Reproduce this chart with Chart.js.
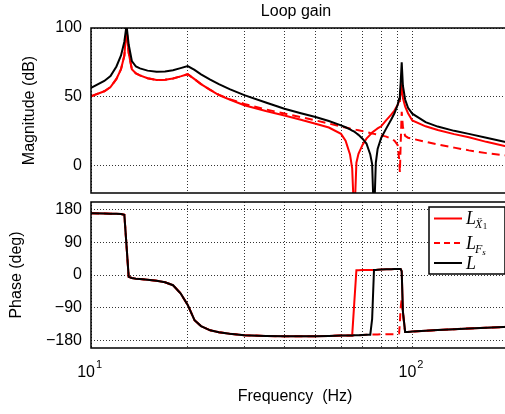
<!DOCTYPE html>
<html>
<head>
<meta charset="utf-8">
<script src="https://cdn.jsdelivr.net/npm/chart.js@4.4.0/dist/chart.umd.min.js"></script>
<style>
  html, body { margin: 0; padding: 0; background: #fff; overflow: hidden; }
  #wrap { position: relative; width: 505px; height: 414px; overflow: hidden; }
  canvas { position: absolute; left: 0; }
  #magChart { top: 0; }
  #phaseChart { top: 195px; }
</style>
</head>
<body>
<div id="wrap">
  <canvas id="magChart" width="509" height="200"></canvas>
  <canvas id="phaseChart" width="509" height="219"></canvas>
</div>
<script>
// frequency points (Hz), shared by all series
const freq = [
  10, 11, 11.5, 12, 12.4, 12.7, 12.9, 13.1, 13.4, 13.8,
  14.2, 15, 16, 17, 18, 19, 20, 21, 22, 23.5,
  25, 27, 30, 35, 40, 45, 50, 55, 60, 62,
  64, 65, 66, 67, 68, 70, 72, 74, 75, 76,
  77, 78, 80, 83, 86, 88, 90, 91, 91.5, 92,
  92.7, 93.5, 95, 97, 100, 110, 120, 135, 150, 170,
  200
];

// magnitude (dB)
const magLX1 = [
  50.4, 54, 57, 63, 70, 80, 100, 82, 70, 67,
  65.5, 63.5, 62.2, 62.3, 63.3, 64.8, 66.4, 62.8, 59.2, 55,
  51.2, 48, 43.8, 39.6, 36.3, 33.3, 30.4, 27.6, 23, 18,
  8, -2, -40, 2, 8.5, 15, 19.5, 22.5, 24, 25,
  26, 27, 28.5, 33, 37, 40, 44, 47, 49.5, 52,
  57, 49, 43, 38, 32.8, 28.5, 25.8, 22.8, 20.5, 17.2,
  13.5
];
const magLFs = [
  50.4, 54, 57, 63, 70, 80, 100, 82, 70, 67,
  65.5, 63.5, 62.2, 62.3, 63.3, 64.8, 66.4, 62.8, 59.2, 55,
  51.5, 48.3, 44.8, 40.8, 37.8, 35.2, 32.8, 30.5, 28.4, 27.6,
  26.9, 26.6, 26.2, 25.9, 25.6, 25, 24.3, 23.6, 23.3, 23,
  22.7, 22.4, 21.9, 21, 19.5, 18, 15, 5, -5, 15,
  39, 28, 21.5, 20.2, 19.5, 17.2, 15.3, 13, 11, 9,
  7
];
const magL = [
  56.4, 61.5, 65, 72, 80, 90, 102, 88, 76, 72,
  70.6, 69, 68.2, 68.3, 69.3, 70.8, 72.3, 69.5, 66.3, 62.5,
  59.2, 55.5, 51.2, 45.8, 41.3, 38, 35.3, 32.4, 29.2, 27.8,
  26.3, 25.4, 24.6, 23.4, 22.3, 19.5, 16, 8, 1, -40,
  2, 12, 20, 27, 33.5, 38, 44, 48.5, 52, 60,
  75, 58, 48, 42, 37.7, 31.5, 28.3, 25.2, 23, 20.2,
  16.5
];

// phase (deg)
const phLX1 = [
  169, 168.5, 168, 167.5, 167, 165, 80, -5, -8, -10,
  -11, -13, -16, -20, -28, -50, -82, -124, -140, -151.5,
  -157, -161, -165, -167, -168, -168, -167.5, -167, -166, -166,
  -165.5, -165.5, -75, 13, 13, 13.5, 13.5, 14, 14, 14,
  14, 14.5, 15, 15.5, 16, 16.5, 16.5, 16.5, 16.5, 16.5,
  10, -100, -156, -156, -155, -153, -151, -148.5, -146.5, -144.5,
  -142
];
const phLFs = [
  169, 168.5, 168, 167.5, 167, 165, 80, -5, -8, -10,
  -11, -13, -16, -20, -28, -50, -82, -124, -140, -151.5,
  -157, -161, -165, -167, -168, -168, -167.5, -167, -166, -166,
  -165.5, -165.5, -165, -165, -165, -164.5, -164, -163.5, -163, -163,
  -163, -163, -162.5, -162, -162, -162, -162, -160, -130, -90,
  -65, -105, -156, -156, -155, -153, -151, -148.5, -146.5, -144.5,
  -142
];
const phL = [
  169, 168.5, 168, 167.5, 167, 165, 80, -5, -8, -10,
  -11, -13, -16, -20, -28, -50, -82, -124, -140, -151.5,
  -157, -161, -165, -167, -168, -168, -167.5, -167, -166, -166,
  -165.5, -165.5, -165, -165, -165, -164.5, -164, -163.5, -120, 14,
  14, 14.5, 15, 15.5, 16, 16.5, 16.5, 16.5, 16.5, 16.5,
  10, -100, -156, -156, -155, -153, -151, -148.5, -146.5, -144.5,
  -142
];

// ticks
const freqGrid = [10, 20, 30, 40, 50, 60, 70, 80, 90, 100, 200];
const freqLabelValues = [10, 100];
const freqLabelExp = ["1", "2"];
const magTicks = [0, 50, 100];
const phaseTicks = [-180, -90, 0, 90, 180];
const phaseTickLabels = ["\u2212180", "\u221290", "0", "90", "180"];

const RED = "#ff0000";
const BLACK = "#000000";
const SANS = "'Liberation Sans', Arial, sans-serif";
const SERIF = "'Liberation Serif', 'DejaVu Serif', serif";

const pts = arr => freq.map((f, i) => ({ x: f, y: arr[i] }));

function makeSets(lx1, lfs, l) {
  // first dataset is drawn on top
  return [
    { data: pts(l), borderColor: BLACK, borderWidth: 2, pointRadius: 0, clip: 0 },
    { data: pts(lfs), borderColor: RED, borderWidth: 2, borderDash: [8, 5], pointRadius: 0, clip: 0 },
    { data: pts(lx1), borderColor: RED, borderWidth: 2, pointRadius: 0, clip: 0 }
  ];
}

const gridOpts = { color: "#333", lineWidth: 1, drawTicks: false };
const borderOpts = { display: false, dash: [1, 2] };

// no extra room for tick labels, plot area is set by layout padding only
function noPad(s) {
  s.paddingTop = 0; s.paddingBottom = 0; s.paddingLeft = 0; s.paddingRight = 0;
}

// black box round the plot area
const frame = {
  id: "frame",
  afterDatasetsDraw(chart) {
    const a = chart.chartArea, c = chart.ctx;
    c.save();
    c.strokeStyle = BLACK;
    c.lineWidth = 1.5;
    c.strokeRect(a.left, a.top, a.right - a.left, a.bottom - a.top);
    c.restore();
  }
};

const magText = {
  id: "magText",
  afterDraw(chart) {
    const c = chart.ctx;
    c.save();
    c.fillStyle = BLACK;
    c.font = "16px " + SANS;
    c.textAlign = "center";
    c.textBaseline = "middle";
    c.fillText("Loop gain", 296, 12);
    c.restore();
  }
};

// legend with subscripts, drawn by hand
const legendItems = [
  { sub: "\u1E8C", sub2: "1", color: RED, dash: [] },
  { sub: "F", sub2: "s", color: RED, dash: [6, 4] },
  { sub: "", sub2: "", color: BLACK, dash: [] }
];
const phaseText = {
  id: "phaseText",
  afterDraw(chart) {
    const c = chart.ctx;
    const xs = chart.scales.x;
    c.save();
    c.fillStyle = BLACK;
    c.textBaseline = "alphabetic";

    // 10^n tick labels
    freqLabelValues.forEach((v, i) => {
      const px = xs.getPixelForValue(v);
      c.font = "16px " + SANS;
      c.textAlign = "right";
      c.fillText("10", px + 4, 182);
      c.font = "11px " + SANS;
      c.textAlign = "left";
      c.fillText(freqLabelExp[i], px + 5, 173);
    });

    c.font = "16px " + SANS;
    c.textAlign = "center";
    c.textBaseline = "middle";
    c.fillText("Frequency  (Hz)", 295, 202);

    // legend box
    const bx = 429, by = 12, bw = 76, bh = 67;
    c.fillStyle = "#fff";
    c.fillRect(bx, by, bw, bh);
    c.strokeStyle = BLACK;
    c.lineWidth = 1.5;
    c.strokeRect(bx, by, bw, bh);
    const rows = [23.5, 48, 68];
    legendItems.forEach((it, i) => {
      const y = rows[i];
      c.strokeStyle = it.color;
      c.lineWidth = 2;
      c.setLineDash(it.dash);
      c.beginPath();
      c.moveTo(434, y);
      c.lineTo(462, y);
      c.stroke();
      c.setLineDash([]);
      c.fillStyle = BLACK;
      c.textAlign = "left";
      c.textBaseline = "alphabetic";
      c.font = "italic 18px " + SERIF;
      c.fillText("L", 466, y + 5.5);
      if (it.sub) {
        c.font = "italic 12px " + SERIF;
        c.fillText(it.sub, 475, y + 9.5);
        const w = c.measureText(it.sub).width;
        if (i === 0) {
          c.font = "9px " + SERIF;
          c.fillText(it.sub2, 475 + w + 0.5, y + 10);
        } else {
          c.font = "italic 9px " + SERIF;
          c.fillText(it.sub2, 475 + w, y + 12);
        }
      }
    });
    c.restore();
  }
};

new Chart(document.getElementById("magChart"), {
  type: "line",
  data: { datasets: makeSets(magLX1, magLFs, magL) },
  options: {
    responsive: false,
    animation: false,
    devicePixelRatio: 1,
    layout: { autoPadding: false, padding: { top: 28, bottom: 7, left: 0, right: 0 } },
    plugins: { legend: { display: false }, tooltip: { enabled: false } },
    scales: {
      x: {
        type: "logarithmic",
        min: 10,
        max: 200,
        grid: gridOpts,
        border: borderOpts,
        ticks: { display: false },
        afterBuildTicks: s => { s.ticks = freqGrid.map(v => ({ value: v })); },
        afterFit: s => { s.height = 0; noPad(s); }
      },
      y: {
        min: -20,
        max: 100,
        grid: gridOpts,
        border: borderOpts,
        afterBuildTicks: s => { s.ticks = magTicks.map(v => ({ value: v })); },
        afterFit: s => { s.width = 91; noPad(s); },
        ticks: { color: BLACK, padding: 9, font: { family: SANS, size: 16 } },
        title: {
          display: true,
          text: "Magnitude (dB)",
          color: BLACK,
          padding: { top: 20, bottom: 0 },
          font: { family: SANS, size: 16 }
        }
      }
    }
  },
  plugins: [frame, magText]
});

new Chart(document.getElementById("phaseChart"), {
  type: "line",
  data: { datasets: makeSets(phLX1, phLFs, phL) },
  options: {
    responsive: false,
    animation: false,
    devicePixelRatio: 1,
    layout: { autoPadding: false, padding: { top: 7, bottom: 0, left: 0, right: 0 } },
    plugins: { legend: { display: false }, tooltip: { enabled: false } },
    scales: {
      x: {
        type: "logarithmic",
        min: 10,
        max: 200,
        grid: gridOpts,
        border: borderOpts,
        ticks: { display: false },
        afterBuildTicks: s => { s.ticks = freqGrid.map(v => ({ value: v })); },
        afterFit: s => { s.height = 66; noPad(s); }
      },
      y: {
        min: -200,
        max: 200,
        grid: gridOpts,
        border: borderOpts,
        afterBuildTicks: s => { s.ticks = phaseTicks.map(v => ({ value: v })); },
        afterFit: s => { s.width = 91; noPad(s); },
        ticks: {
          color: BLACK,
          padding: 9,
          font: { family: SANS, size: 16 },
          callback: v => phaseTickLabels[phaseTicks.indexOf(v)]
        },
        title: {
          display: true,
          text: "Phase (deg)",
          color: BLACK,
          padding: { top: 7, bottom: 0 },
          font: { family: SANS, size: 16 }
        }
      }
    }
  },
  plugins: [frame, phaseText]
});
</script>
</body>
</html>
